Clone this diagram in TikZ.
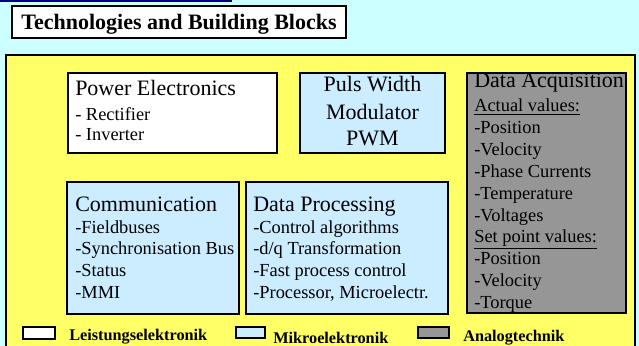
\documentclass[tikz,border=0pt]{standalone}
\usepackage{fontspec}
\setmainfont{Liberation Serif}
\usepackage{tikz}

\begin{document}
\begin{tikzpicture}[x=0.75pt,y=0.75pt,yscale=-1,xscale=1,
  blockbox/.style={draw={rgb, 255:red, 0; green, 0; blue, 0 }, line width=2},
  legendbox/.style={draw={rgb, 255:red, 0; green, 0; blue, 0 }, line width=1.9},
  headtext/.style={anchor=base west, inner sep=0pt, font=\fontsize{16.5}{20.25}\selectfont},
  itemtext/.style={anchor=base west, inner sep=0pt, align=left, font=\fontsize{13.8}{16.4}\selectfont},
  legendtext/.style={anchor=base west, inner sep=0pt, font=\fontsize{12.2}{14}\selectfont\bfseries}
]
%set diagram left start at 0, and has width of 639 and height of 346
\useasboundingbox (0,0) rectangle (639,346);

%Shape: Rectangle [background]
\fill [color={rgb, 255:red, 204; green, 255; blue, 255 }] (0,0) rectangle (639,346);
%Straight Lines [top rule]
\draw [color={rgb, 255:red, 0; green, 0; blue, 128 }, line width=1.5] (0,1) -- (232,1);

%Shape: Rectangle [title]
\draw [line width=1.75, fill={rgb, 255:red, 255; green, 255; blue, 255 }] (12,6) rectangle (346,38);
%Shape: Rectangle [yellow area]
\fill [color={rgb, 255:red, 255; green, 255; blue, 102 }] (6,55) rectangle (635,350);
\draw [line width=1.5] (6,350) -- (6,55) -- (635,55) -- (635,350);

%Shape: Rectangle [power electronics]
\draw [blockbox, fill={rgb, 255:red, 255; green, 255; blue, 255 }] (68,73) rectangle (277,153);
%Shape: Rectangle [pwm]
\draw [blockbox, fill={rgb, 255:red, 204; green, 236; blue, 255 }] (300,73) rectangle (445,153);
%Shape: Rectangle [data acquisition]
\draw [blockbox, fill={rgb, 255:red, 150; green, 150; blue, 150 }] (467,73) rectangle (626,313);
%Shape: Rectangle [communication]
\draw [blockbox, fill={rgb, 255:red, 204; green, 236; blue, 255 }] (67,182) rectangle (239,314);
%Shape: Rectangle [data processing]
\draw [blockbox, fill={rgb, 255:red, 204; green, 236; blue, 255 }] (246,182) rectangle (448,314);

%Shape: Rectangle [legend]
\draw [legendbox, fill={rgb, 255:red, 255; green, 255; blue, 255 }] (23,327) rectangle (55,339);
\draw [legendbox, fill={rgb, 255:red, 204; green, 236; blue, 255 }] (236,327) rectangle (265,338);
\draw [legendbox, fill={rgb, 255:red, 150; green, 150; blue, 150 }] (418,327) rectangle (449,338);

% Text Node
\draw (179,29.5) node [anchor=base, inner sep=0pt, font=\fontsize{16.5}{20}\selectfont\bfseries] (title) {Technologies and Building Blocks};
% Text Node
\draw (75,96) node [headtext] (pe-head) {Power Electronics};
% Text Node
\draw (75,141) node [itemtext, font=\fontsize{13.8}{15.75}\selectfont] (pe-items) {- Rectifier\\- Inverter};
% Text Node
\draw (372.5,146) node [anchor=base, inner sep=0pt, align=center, font=\fontsize{16.5}{20.25}\selectfont] (pwm) {Puls Width\\Modulator\\PWM};
% Text Node
\draw (474,88) node [headtext] (daq-head) {Data Acquisition};
% Text Node
\draw (474,308.5) node [itemtext] (daq-items) {\underline{Actual values:}\\-Position\\-Velocity\\-Phase Currents\\-Temperature\\-Voltages\\\underline{Set point values:}\\-Position\\-Velocity\\-Torque};
% Text Node
\draw (75,211) node [headtext] (com-head) {Communication};
% Text Node
\draw (75,298.6) node [itemtext] (com-items) {-Fieldbuses\\-Synchronisation Bus\\-Status\\-MMI};
% Text Node
\draw (253,211) node [headtext] (dp-head) {Data Processing};
% Text Node
\draw (253,298.6) node [itemtext] (dp-items) {-Control algorithms\\-d/q Transformation\\-Fast process control\\-Processor, Microelectr.};

% Text Node
\draw (69,340) node [legendtext] (leg-pe) {Leistungselektronik};
% Text Node
\draw (273,343) node [legendtext] (leg-mik) {Mikroelektronik};
% Text Node
\draw (463,341) node [legendtext] (leg-ana) {Analogtechnik};
\end{tikzpicture}
\end{document}
